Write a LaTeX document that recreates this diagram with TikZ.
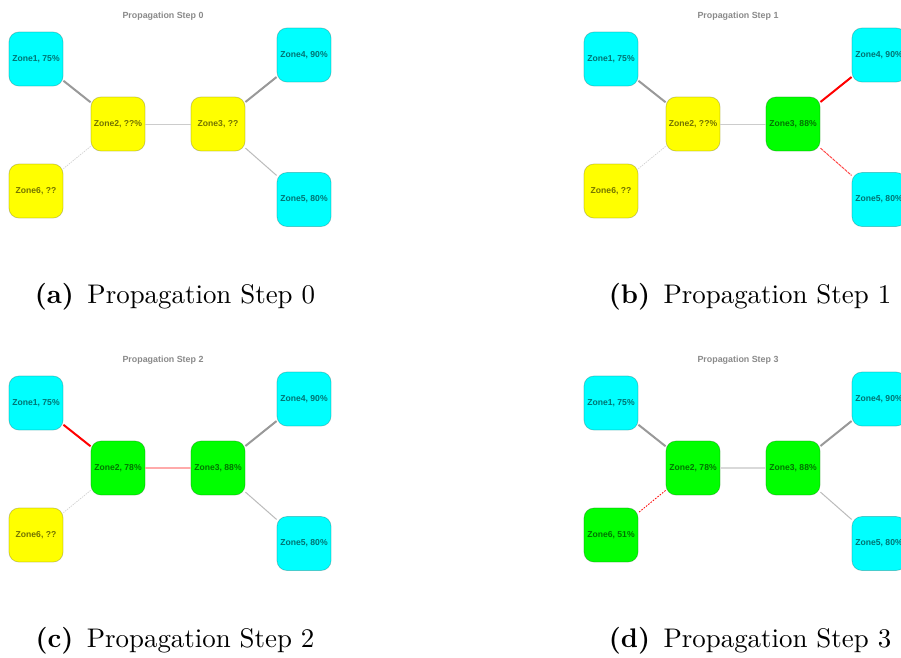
\documentclass[tikz,border=0pt]{standalone}
\usepackage{fontspec}
\newfontfamily\zonefont{Liberation Sans}
\definecolor{zcyan}{HTML}{00FFFF}
\definecolor{zyellow}{HTML}{FFFF00}
\definecolor{zgreen}{HTML}{00FF00}
\definecolor{titlegray}{HTML}{8A8A8A}
\definecolor{edgedark}{HTML}{999999}
\definecolor{edgemid}{HTML}{BBBBBB}
\definecolor{edgelight}{HTML}{CCCCCC}
\definecolor{edgefaint}{HTML}{D0D0D0}
\definecolor{edgered}{HTML}{FF0000}
\definecolor{edgepink}{HTML}{FFAAAA}
\begin{document}
\begin{tikzpicture}[x=0.3717pt,y=-0.3717pt,
  zone/.style={rectangle,rounded corners=3.7pt,minimum width=20.1pt,minimum height=20.1pt,
    inner sep=0pt,draw=black,draw opacity=0.2,line width=0.3pt,
    font=\zonefont\bfseries\fontsize{3.2}{4}\selectfont,text=black,text opacity=0.55},
  cy/.style={zone,fill=zcyan},
  ye/.style={zone,fill=zyellow},
  gr/.style={zone,fill=zgreen},
  ttl/.style={font=\zonefont\bfseries\fontsize{3.3}{4}\selectfont,text=titlegray},
  captext/.style={font=\fontsize{10}{12}\selectfont},
  heavy/.style={line width=0.74pt,draw=edgedark},
  heavyred/.style={line width=0.74pt,draw=edgered},
  mid/.style={line width=0.37pt,draw=edgemid},
  midred/.style={line width=0.34pt,draw=edgered!75,dash pattern=on 1.2pt off 0.3pt},
  light/.style={line width=0.37pt,draw=edgelight},
  lightpink/.style={line width=0.5pt,draw=edgepink},
  lightfaint/.style={line width=0.5pt,draw=edgefaint!80},
  faint/.style={line width=0.26pt,draw=edgefaint,dash pattern=on 0.5pt off 0.4pt},
  faintred/.style={line width=0.3pt,draw=edgered,dash pattern=on 0.6pt off 0.5pt},
]
\useasboundingbox (0,0) rectangle (901,657);
\fill[white] (0,0) rectangle (901,657);
\clip (0,0) rectangle (901,657);

% Step 0
\begin{scope}
  \node[ttl] (ta) at (163,16) {Propagation Step 0};
  \node[cy] (a1) at (36,59) {Zone1, 75\%};
  \node[ye] (a2) at (118,124) {Zone2, ??\%};
  \node[ye] (a3) at (218,124) {Zone3, ??};
  \node[cy] (a4) at (304,55) {Zone4, 90\%};
  \node[cy] (a5) at (304,199.5) {Zone5, 80\%};
  \node[ye] (a6) at (36,191) {Zone6, ??};
  \draw[heavy] (a1) -- (a2);
  \draw[light] (a2) -- (a3);
  \draw[faint] (a2) -- (a6);
  \draw[heavy] (a3) -- (a4);
  \draw[mid] (a3) -- (a5);
  \node[captext] (ca) at (175,297) {\textbf{(a)}\hskip 5pt Propagation Step 0};
\end{scope}

% Step 1
\begin{scope}[shift={(575,0)}]
  \node[ttl] (tb) at (163,16) {Propagation Step 1};
  \node[cy] (b1) at (36,59) {Zone1, 75\%};
  \node[ye] (b2) at (118,124) {Zone2, ??\%};
  \node[gr] (b3) at (218,124) {Zone3, 88\%};
  \node[cy] (b4) at (304,55) {Zone4, 90\%};
  \node[cy] (b5) at (304,199.5) {Zone5, 80\%};
  \node[ye] (b6) at (36,191) {Zone6, ??};
  \draw[heavy] (b1) -- (b2);
  \draw[light] (b2) -- (b3);
  \draw[faint] (b2) -- (b6);
  \draw[heavyred] (b3) -- (b4);
  \draw[midred] (b3) -- (b5);
  \node[captext] (cb) at (175,297) {\textbf{(b)}\hskip 5pt Propagation Step 1};
\end{scope}

% Step 2
\begin{scope}[shift={(0,344)}]
  \node[ttl] (tc) at (163,16) {Propagation Step 2};
  \node[cy] (c1) at (36,59) {Zone1, 75\%};
  \node[gr] (c2) at (118,124) {Zone2, 78\%};
  \node[gr] (c3) at (218,124) {Zone3, 88\%};
  \node[cy] (c4) at (304,55) {Zone4, 90\%};
  \node[cy] (c5) at (304,199.5) {Zone5, 80\%};
  \node[ye] (c6) at (36,191) {Zone6, ??};
  \draw[heavyred] (c1) -- (c2);
  \draw[lightpink] (c2) -- (c3);
  \draw[faint] (c2) -- (c6);
  \draw[heavy] (c3) -- (c4);
  \draw[mid] (c3) -- (c5);
  \node[captext] (cc) at (175,297) {\textbf{(c)}\hskip 5pt Propagation Step 2};
\end{scope}

% Step 3
\begin{scope}[shift={(575,344)}]
  \node[ttl] (td) at (163,16) {Propagation Step 3};
  \node[cy] (d1) at (36,59) {Zone1, 75\%};
  \node[gr] (d2) at (118,124) {Zone2, 78\%};
  \node[gr] (d3) at (218,124) {Zone3, 88\%};
  \node[cy] (d4) at (304,55) {Zone4, 90\%};
  \node[cy] (d5) at (304,199.5) {Zone5, 80\%};
  \node[gr] (d6) at (36,191) {Zone6, 51\%};
  \draw[heavy] (d1) -- (d2);
  \draw[lightfaint] (d2) -- (d3);
  \draw[faintred] (d2) -- (d6);
  \draw[heavy] (d3) -- (d4);
  \draw[mid] (d3) -- (d5);
  \node[captext] (cd) at (175,297) {\textbf{(d)}\hskip 5pt Propagation Step 3};
\end{scope}
\end{tikzpicture}
\end{document}
